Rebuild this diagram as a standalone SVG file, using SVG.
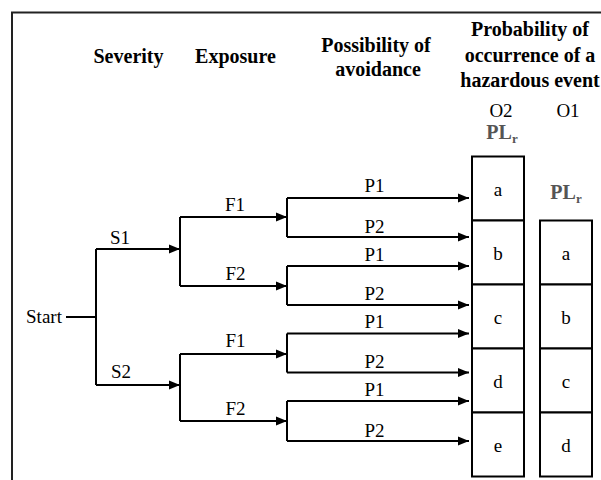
<svg xmlns="http://www.w3.org/2000/svg" width="601" height="480" viewBox="0 0 601 480" font-family="Liberation Serif, DejaVu Serif, serif">
  <defs>
    <marker id="arrow" markerWidth="12" markerHeight="10" refX="11" refY="5" orient="auto" markerUnits="userSpaceOnUse">
      <path d="M0,0.5 L11,5 L0,9.5 Z" fill="#000"/>
    </marker>
    <style>
      .hdr { font-size: 20px; font-weight: bold; text-anchor: middle; }
      .lbl { font-size: 19px; text-anchor: middle; }
      .plr { font-size: 20px; font-weight: bold; fill: #555; text-anchor: middle; }
      .sub { font-size: 13px; }
      .line { fill: none; stroke: #000; stroke-width: 2; }
      .arr { fill: none; stroke: #000; stroke-width: 2; marker-end: url(#arrow); }
      .cell { fill: #fff; stroke: #000; stroke-width: 2; }
      .frame { fill: none; stroke: #222; stroke-width: 2; }
    </style>
  </defs>

  <rect width="601" height="480" fill="#fff"/>
  <!-- outer frame (top and left edges) -->
  <path class="frame" d="M12,480 V12.5 H601"/>

  <!-- column headings -->
  <g id="headings">
    <text class="hdr" x="128.5" y="63">Severity</text>
    <text class="hdr" x="235.5" y="63">Exposure</text>
    <text class="hdr" x="376" y="51.5">Possibility of</text>
    <text class="hdr" x="378" y="76">avoidance</text>
    <text class="hdr" x="530" y="36">Probability of</text>
    <text class="hdr" x="530" y="61.5">occurrence of a</text>
    <text class="hdr" x="530" y="87">hazardous event</text>
    <text class="lbl" x="501" y="116.5">O2</text>
    <text class="lbl" x="568" y="116.5">O1</text>
    <text class="plr" x="502" y="138.5">PL<tspan class="sub" dy="4">r</tspan></text>
    <text class="plr" x="566" y="198.5">PL<tspan class="sub" dy="4">r</tspan></text>
  </g>

  <!-- decision tree connectors -->
  <g id="connectors">
    <!-- start -> severity -->
    <path class="line" d="M66,317 H96 M96,249 V385"/>
    <path class="arr" d="M96,249 H180"/>
    <path class="arr" d="M96,385 H180"/>
    <!-- severity -> exposure -->
    <path class="line" d="M180,217 V286 M180,354 V421"/>
    <path class="arr" d="M180,217 H287"/>
    <path class="arr" d="M180,286 H287"/>
    <path class="arr" d="M180,354 H287"/>
    <path class="arr" d="M180,421 H287"/>
    <!-- exposure -> avoidance -->
    <path class="line" d="M287,198 V237 M287,266 V305 M287,333.5 V372.5 M287,401 V441"/>
    <path class="arr" d="M287,198 H469"/>
    <path class="arr" d="M287,237 H469"/>
    <path class="arr" d="M287,266 H469"/>
    <path class="arr" d="M287,305 H469"/>
    <path class="arr" d="M287,333.5 H469"/>
    <path class="arr" d="M287,372.5 H469"/>
    <path class="arr" d="M287,401 H469"/>
    <path class="arr" d="M287,441 H469"/>
  </g>

  <!-- branch labels -->
  <g id="labels">
    <text class="lbl" x="44" y="323">Start</text>
    <text class="lbl" x="120" y="243.5">S1</text>
    <text class="lbl" x="121" y="378">S2</text>
    <text class="lbl" x="235" y="211">F1</text>
    <text class="lbl" x="235.5" y="280">F2</text>
    <text class="lbl" x="235.5" y="346.5">F1</text>
    <text class="lbl" x="235.5" y="415">F2</text>
    <text class="lbl" x="374.5" y="191.5">P1</text>
    <text class="lbl" x="374.5" y="232.5">P2</text>
    <text class="lbl" x="374.5" y="260.5">P1</text>
    <text class="lbl" x="374.5" y="300">P2</text>
    <text class="lbl" x="374.5" y="328">P1</text>
    <text class="lbl" x="374.5" y="368">P2</text>
    <text class="lbl" x="374.5" y="395.5">P1</text>
    <text class="lbl" x="374.5" y="436.5">P2</text>
  </g>

  <!-- performance level column for O2 -->
  <g id="o2-a"><rect class="cell" x="472" y="156.5" width="52" height="64"/><text class="lbl" x="498" y="195.5">a</text></g>
  <g id="o2-b"><rect class="cell" x="472" y="220.5" width="52" height="64"/><text class="lbl" x="498" y="259.5">b</text></g>
  <g id="o2-c"><rect class="cell" x="472" y="284.5" width="52" height="64"/><text class="lbl" x="498" y="323.5">c</text></g>
  <g id="o2-d"><rect class="cell" x="472" y="348.5" width="52" height="64"/><text class="lbl" x="498" y="387.5">d</text></g>
  <g id="o2-e"><rect class="cell" x="472" y="412.5" width="52" height="64"/><text class="lbl" x="498" y="451.5">e</text></g>

  <!-- performance level column for O1 -->
  <g id="o1-a"><rect class="cell" x="540" y="220.5" width="52" height="64"/><text class="lbl" x="566" y="259.5">a</text></g>
  <g id="o1-b"><rect class="cell" x="540" y="284.5" width="52" height="64"/><text class="lbl" x="566" y="323.5">b</text></g>
  <g id="o1-c"><rect class="cell" x="540" y="348.5" width="52" height="64"/><text class="lbl" x="566" y="387.5">c</text></g>
  <g id="o1-d"><rect class="cell" x="540" y="412.5" width="52" height="64"/><text class="lbl" x="566" y="451.5">d</text></g>
</svg>
